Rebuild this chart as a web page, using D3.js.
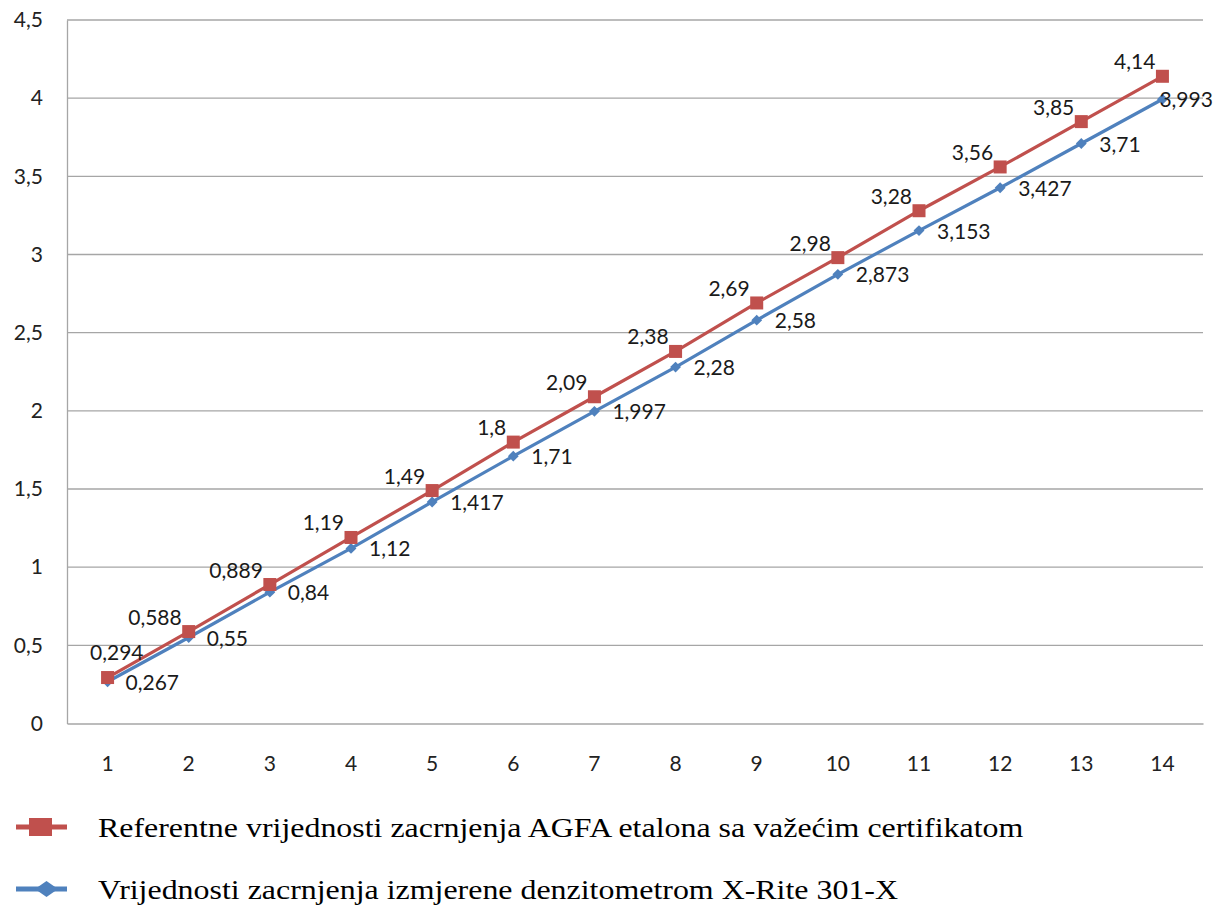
<!DOCTYPE html>
<html>
<head>
  <meta charset="utf-8">
  <title>Zacrnjenje</title>
  <script src="https://d3js.org/d3.v7.min.js"></script>
  <style>
    body { margin: 0; background: #fff; }
    .tick text { font-family: Lato, "Open Sans", sans-serif; font-size: 21px; fill: #222; }
    .lbl { font-family: Lato, "Open Sans", sans-serif; font-size: 21px; fill: #1a1a1a; }
    .leg { font-family: "Liberation Serif", "Times New Roman", serif; font-size: 28px; fill: #000; }
  </style>
</head>
<body>
<svg id="chart" width="1224" height="914"></svg>
<script>
  // data
  var categories = [1, 2, 3, 4, 5, 6, 7, 8, 9, 10, 11, 12, 13, 14]
  var referentne = [0.294, 0.588, 0.889, 1.19, 1.49, 1.8, 2.09, 2.38, 2.69, 2.98, 3.28, 3.56, 3.85, 4.14]
  var izmjerene = [0.267, 0.55, 0.84, 1.12, 1.417, 1.71, 1.997, 2.28, 2.58, 2.873, 3.153, 3.427, 3.71, 3.993]
  var yTicks = [0, 0.5, 1, 1.5, 2, 2.5, 3, 3.5, 4, 4.5]
  var legendNames = [
    'Referentne vrijednosti zacrnjenja AGFA etalona sa važećim certifikatom',
    'Vrijednosti zacrnjenja izmjerene denzitometrom X-Rite 301-X'
  ]

  var red = '#C0504D', blue = '#4F81BD'
  var plotL = 67, plotR = 1203, plotT = 20, plotB = 723.5
  var svg = d3.select('#chart')

  var x = d3.scaleBand().domain(categories).range([plotL, plotR]).padding(0)
  var y = d3.scaleLinear().domain([0, 4.5]).range([plotB, plotT])
  var cx = function (d) { return x(d) + x.bandwidth() / 2 }
  var fmt = function (v) { return String(v).replace('.', ',') }

  // gridlines
  svg.append('g').selectAll('line')
      .data(yTicks.slice(1))
      .enter().append('line')
      .attr('x1', plotL).attr('x2', plotR)
      .attr('y1', function (d) { return y(d) }).attr('y2', function (d) { return y(d) })
      .attr('stroke', '#a6a6a6').attr('stroke-width', 1.3)

  // y axis
  var yAxis = svg.append('g')
      .attr('transform', 'translate(' + plotL + ',0)')
      .call(d3.axisLeft(y).tickValues(yTicks).tickSize(0).tickPadding(24).tickFormat(fmt))
  yAxis.select('.domain').attr('stroke', '#a6a6a6').attr('stroke-width', 1.3)

  // x axis
  var xAxis = svg.append('g')
      .attr('transform', 'translate(0,' + plotB + ')')
      .call(d3.axisBottom(x).tickSize(0).tickPadding(33))
  xAxis.select('.domain').attr('stroke', '#a6a6a6').attr('stroke-width', 1.3)

  var line = d3.line()
      .x(function (d, i) { return cx(categories[i]) })
      .y(function (d) { return y(d) })

  // blue series
  svg.append('path').datum(izmjerene)
      .attr('fill', 'none').attr('stroke', blue).attr('stroke-width', 3.2).attr('d', line)
  svg.append('g').selectAll('path')
      .data(izmjerene).enter().append('path')
      .attr('d', d3.symbol().type(d3.symbolDiamond2).size(75))
      .attr('transform', function (d, i) { return 'translate(' + cx(categories[i]) + ',' + y(d) + ')' })
      .attr('fill', blue)

  // red series
  svg.append('path').datum(referentne)
      .attr('fill', 'none').attr('stroke', red).attr('stroke-width', 3.2).attr('d', line)
  svg.append('g').selectAll('rect')
      .data(referentne).enter().append('rect')
      .attr('x', function (d, i) { return cx(categories[i]) - 6.5 })
      .attr('y', function (d) { return y(d) - 6.5 })
      .attr('width', 13).attr('height', 13)
      .attr('fill', red)

  // labels
  svg.append('g').selectAll('text')
      .data(referentne).enter().append('text')
      .attr('class', 'lbl')
      .attr('x', function (d, i) { return i === 0 ? cx(categories[i]) + 36 : cx(categories[i]) - 7 })
      .attr('y', function (d, i) { return i === 0 ? y(d) - 18 : y(d) - 7 })
      .attr('text-anchor', 'end')
      .text(fmt)
  svg.append('g').selectAll('text')
      .data(izmjerene).enter().append('text')
      .attr('class', 'lbl')
      .attr('x', function (d, i) { return i === 13 ? cx(categories[i]) - 3 : cx(categories[i]) + 18 })
      .attr('y', function (d) { return y(d) + 8 })
      .text(fmt)

  // legend
  var legColors = [red, blue]
  var leg = svg.append('g').selectAll('g')
      .data(legendNames).enter().append('g')
      .attr('transform', function (d, i) { return 'translate(0,' + (827 + i * 62) + ')' })
  leg.append('line')
      .attr('x1', 16).attr('x2', 67).attr('y1', 0).attr('y2', 0)
      .attr('stroke', function (d, i) { return legColors[i] }).attr('stroke-width', 5)
  leg.filter(function (d, i) { return i === 0 }).append('rect')
      .attr('x', 29).attr('y', -9).attr('width', 23).attr('height', 18).attr('fill', red)
  leg.filter(function (d, i) { return i === 1 }).append('path')
      .attr('d', 'M35,0 L46.5,-8 L58,0 L46.5,8 Z').attr('fill', blue)
  leg.append('text')
      .attr('class', 'leg')
      .attr('transform', 'translate(98,10) scale(1.14,1)')
      .text(function (d) { return d })
</script>
</body>
</html>
